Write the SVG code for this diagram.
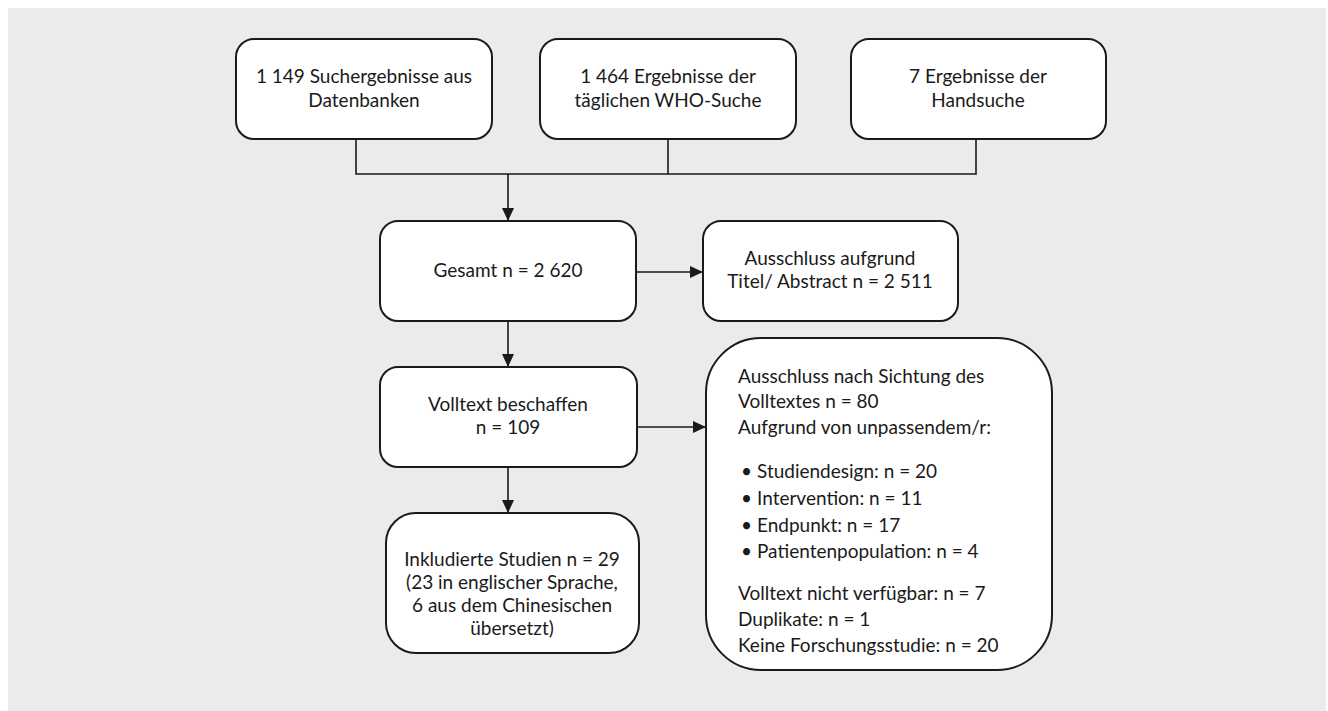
<svg xmlns="http://www.w3.org/2000/svg" width="1328" height="711" viewBox="0 0 1328 711">
<style>
.box{fill:#fff;stroke:#1a1a1a;stroke-width:2}
.t{font-family:Lato,"Noto Sans",sans-serif;font-size:19px;fill:#1a1a1a}
.c{text-anchor:middle}
.ln{fill:none;stroke:#1a1a1a;stroke-width:1.6}
</style>
<defs>
<marker id="ah" markerWidth="13" markerHeight="13" refX="12" refY="6.5" orient="auto" markerUnits="userSpaceOnUse">
<path d="M0,0.5 L13,6.5 L0,12.5 Z" fill="#1a1a1a"/>
</marker>
</defs>
<rect x="8" y="8" width="1318" height="703" fill="#ebebeb"/>
<g id="n1"><rect class="box" x="236" y="39" width="256" height="100" rx="18"/>
<text class="t c" x="364" y="83">1 149 Suchergebnisse aus</text><text class="t c" x="364" y="107">Datenbanken</text></g>
<g id="n2"><rect class="box" x="540" y="39" width="256" height="100" rx="18"/>
<text class="t c" x="668" y="83">1 464 Ergebnisse der</text><text class="t c" x="668" y="107">täglichen WHO-Suche</text></g>
<g id="n3"><rect class="box" x="851" y="39" width="255" height="100" rx="18"/>
<text class="t c" x="978" y="83">7 Ergebnisse der</text><text class="t c" x="978" y="107">Handsuche</text></g>
<g id="n4"><rect class="box" x="380" y="221" width="256" height="100" rx="18"/>
<text class="t c" x="508" y="277">Gesamt n = 2 620</text></g>
<g id="n5"><rect class="box" x="703" y="221" width="255" height="100" rx="18"/>
<text class="t c" x="830" y="265">Ausschluss aufgrund</text><text class="t c" x="830" y="288">Titel/ Abstract n = 2 511</text></g>
<g id="n6"><rect class="box" x="380" y="367" width="257" height="100" rx="18"/>
<text class="t c" x="508" y="411">Volltext beschaffen</text><text class="t c" x="508" y="434">n = 109</text></g>
<g id="n7"><rect class="box" x="386" y="513" width="253" height="140" rx="30"/>
<text class="t c" x="512" y="566">Inkludierte Studien n = 29</text>
<text class="t c" x="512" y="589">(23 in englischer Sprache,</text>
<text class="t c" x="512" y="612">6 aus dem Chinesischen</text>
<text class="t c" x="512" y="635">übersetzt)</text></g>
<g id="n8"><rect class="box" x="706" y="338" width="346" height="332" rx="55"/>
<text class="t" x="738" y="383">Ausschluss nach Sichtung des</text>
<text class="t" x="738" y="408">Volltextes n = 80</text>
<text class="t" x="738" y="434">Aufgrund von unpassendem/r:</text>
<text class="t" x="741" y="478">•</text><text class="t" x="757" y="478">Studiendesign: n = 20</text>
<text class="t" x="741" y="505">•</text><text class="t" x="757" y="505">Intervention: n = 11</text>
<text class="t" x="741" y="532">•</text><text class="t" x="757" y="532">Endpunkt: n = 17</text>
<text class="t" x="741" y="558">•</text><text class="t" x="757" y="558">Patientenpopulation: n = 4</text>
<text class="t" x="738" y="600">Volltext nicht verfügbar: n = 7</text>
<text class="t" x="738" y="626">Duplikate: n = 1</text>
<text class="t" x="738" y="652">Keine Forschungsstudie: n = 20</text></g>
<g id="connectors">
<path class="ln" d="M356,139 V174 H976 V139 M668,139 V174"/>
<path class="ln" d="M508,174 V220" marker-end="url(#ah)"/>
<path class="ln" d="M636,272 H702" marker-end="url(#ah)"/>
<path class="ln" d="M508,321 V366" marker-end="url(#ah)"/>
<path class="ln" d="M637,427 H705" marker-end="url(#ah)"/>
<path class="ln" d="M508,467 V512" marker-end="url(#ah)"/>
</g>
</svg>
